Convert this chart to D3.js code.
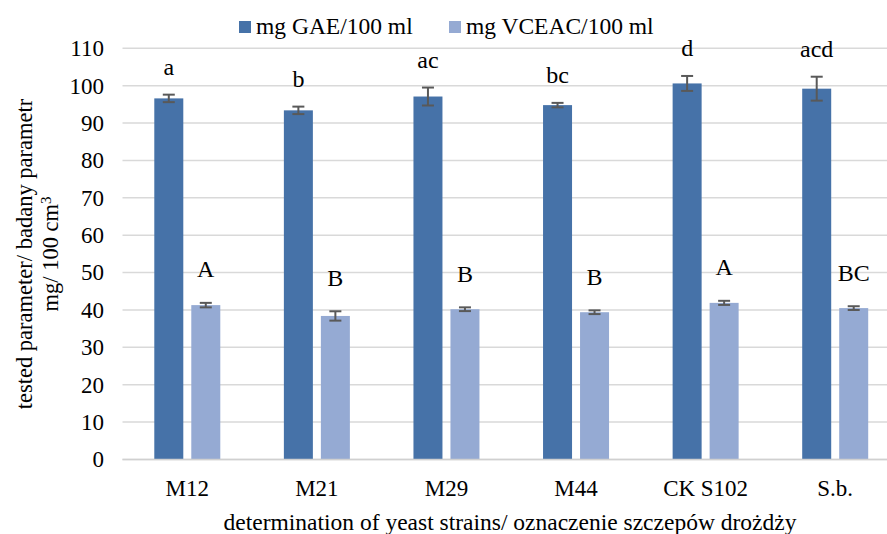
<!DOCTYPE html>
<html>
<head>
<meta charset="utf-8">
<script src="https://cdn.jsdelivr.net/npm/d3@7"></script>
<style>
  body { margin: 0; background: #fff; }
</style>
</head>
<body>
<div id="chart"></div>
<script>
// strains on the x axis
var strains = ["M12", "M21", "M29", "M44", "CK S102", "S.b."];
var seriesNames = ["mg GAE/100 ml", "mg VCEAC/100 ml"];

// values
var gae = [96.6, 93.4, 97.1, 94.8, 100.6, 99.2];
var gaeErr = [1.0, 1.0, 2.4, 0.6, 2.0, 3.2];
var gaeLetters = ["a", "b", "ac", "bc", "d", "acd"];

var vceac = [41.3, 38.4, 40.2, 39.4, 41.9, 40.5];
var vceacErr = [0.6, 1.25, 0.5, 0.5, 0.55, 0.5];
var vceacLetters = ["A", "B", "B", "B", "A", "BC"];

var yTicks = [0, 10, 20, 30, 40, 50, 60, 70, 80, 90, 100, 110];
var colors = ["#4672a8", "#95aad3"];

var width = 887, height = 534;
var font = "'Liberation Serif', 'Times New Roman', 'DejaVu Serif', serif";

var svg = d3.select("#chart")
  .append("svg")
  .attr("width", width)
  .attr("height", height)
  .attr("font-family", font)
  .style("font-family", font);

// the plot runs off the right edge a bit, like the picture
var x = d3.scaleBand()
  .domain(strains)
  .range([122.5, 900]);

var y = d3.scaleLinear()
  .domain([0, 110])
  .range([459.5, 48.3]);

var barW = 29, gap = 8;

// gridlines
svg.append("g")
  .selectAll("line")
  .data(yTicks)
  .enter()
  .append("line")
  .attr("x1", 122.5)
  .attr("x2", width)
  .attr("y1", d => y(d))
  .attr("y2", d => y(d))
  .attr("stroke", "#d9d9d9")
  .attr("stroke-width", 1.5);

// y tick labels
svg.append("g")
  .selectAll("text")
  .data(yTicks)
  .enter()
  .append("text")
  .attr("x", 104)
  .attr("y", d => y(d))
  .attr("dy", "0.34em")
  .attr("text-anchor", "end")
  .style("font-size", "23px")
  .text(d => d);

// build rows for both series
var rows = [];
strains.forEach((s, i) => {
  rows.push({ strain: s, series: 0, value: gae[i], err: gaeErr[i], letter: gaeLetters[i], off: 20 });
  rows.push({ strain: s, series: 1, value: vceac[i], err: vceacErr[i], letter: vceacLetters[i], off: 25.5 });
});

function barX(d) {
  var c = x(d.strain) + x.bandwidth() / 2;
  return d.series == 0 ? c - gap / 2 - barW : c + gap / 2;
}

var g = svg.append("g")
  .selectAll("g")
  .data(rows)
  .enter()
  .append("g");

g.append("rect")
  .attr("x", d => barX(d))
  .attr("y", d => y(d.value))
  .attr("width", barW)
  .attr("height", d => y(0) - y(d.value))
  .attr("fill", d => colors[d.series]);

// error bars
var errColor = "#595959";
g.append("line")
  .attr("x1", d => barX(d) + barW / 2)
  .attr("x2", d => barX(d) + barW / 2)
  .attr("y1", d => y(d.value + d.err))
  .attr("y2", d => y(d.value - d.err))
  .attr("stroke", errColor)
  .attr("stroke-width", 2);

[1, -1].forEach(sign => {
  g.append("line")
    .attr("x1", d => barX(d) + barW / 2 - 6)
    .attr("x2", d => barX(d) + barW / 2 + 6)
    .attr("y1", d => y(d.value + sign * d.err))
    .attr("y2", d => y(d.value + sign * d.err))
    .attr("stroke", errColor)
    .attr("stroke-width", 2);
});

// significance letters
g.append("text")
  .attr("x", d => barX(d) + barW / 2)
  .attr("y", d => y(d.value + d.err) - d.off)
  .attr("text-anchor", "middle")
  .style("font-size", "24px")
  .text(d => d.letter);

// x axis line
svg.append("line")
  .attr("x1", 122.5)
  .attr("x2", width)
  .attr("y1", y(0))
  .attr("y2", y(0))
  .attr("stroke", "#d0d0d0")
  .attr("stroke-width", 1.5);

// category labels
svg.append("g")
  .selectAll("text")
  .data(strains)
  .enter()
  .append("text")
  .attr("x", d => x(d) + x.bandwidth() / 2)
  .attr("y", 496)
  .attr("text-anchor", "middle")
  .style("font-size", "23px")
  .text(d => d);

// axis titles
svg.append("text")
  .attr("x", 510)
  .attr("y", 530)
  .attr("text-anchor", "middle")
  .style("font-size", "23.5px")
  .text("determination of yeast strains/ oznaczenie szczepów drożdży");

var yTitle = svg.append("text")
  .attr("transform", "translate(0,254) rotate(-90)")
  .attr("text-anchor", "middle")
  .style("font-size", "22.5px");
yTitle.append("tspan")
  .attr("x", 0)
  .attr("y", 32)
  .text("tested parameter/ badany parametr");
var line2 = yTitle.append("tspan")
  .attr("x", 0)
  .attr("y", 58);
line2.append("tspan").text("mg/ 100 cm");
line2.append("tspan")
  .attr("dy", "-0.45em")
  .style("font-size", "15px")
  .text("3");

// legend
var legendX = [239, 449];
var legend = svg.append("g")
  .selectAll("g")
  .data(seriesNames)
  .enter()
  .append("g")
  .attr("transform", (d, i) => "translate(" + legendX[i] + ",0)");
legend.append("rect")
  .attr("x", 0)
  .attr("y", 21)
  .attr("width", 12)
  .attr("height", 12)
  .attr("fill", (d, i) => colors[i]);
legend.append("text")
  .attr("x", 17)
  .attr("y", 34)
  .style("font-size", "23.5px")
  .text(d => d);
</script>
</body>
</html>
